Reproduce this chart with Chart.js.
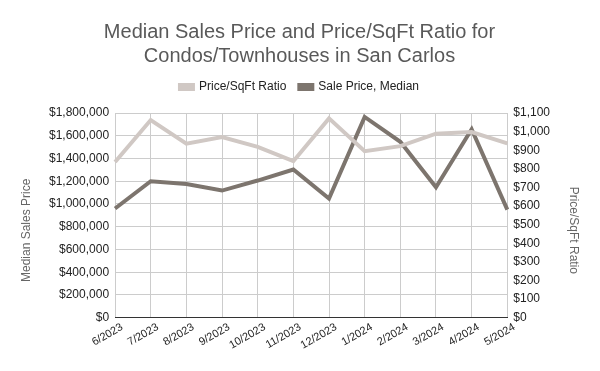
<!DOCTYPE html>
<html>
<head>
<meta charset="utf-8">
<script src="https://cdn.jsdelivr.net/npm/chart.js@4"></script>
<style>
  html, body { margin: 0; padding: 0; background: #fff; }
  #wrap { width: 600px; height: 371px; }
</style>
</head>
<body>
<div id="wrap"><canvas id="chart"></canvas></div>
<script>
// data
const months = ['6/2023', '7/2023', '8/2023', '9/2023', '10/2023', '11/2023',
                '12/2023', '1/2024', '2/2024', '3/2024', '4/2024', '5/2024'];
const pricePerSqFt = [837, 1062, 935, 971, 918, 841, 1071, 895, 922, 989, 998, 937];
const medianPrice = [960000, 1200000, 1176000, 1118000, 1206000, 1303000,
                     1048000, 1765000, 1547000, 1147000, 1657000, 950000];
const leftTitle = 'Median Sales Price';
const rightTitle = 'Price/SqFt Ratio';

const fontFamily = '"Liberation Sans", Arial, sans-serif';

function money(v) {
    return '$' + Number(v).toLocaleString('en-US');
}

// extra gap under the legend
const legendGap = {
    id: 'legendGap',
    beforeInit(chart) {
        const fit = chart.legend.fit;
        chart.legend.fit = function () {
            fit.bind(chart.legend)();
            this.height += 10;
        };
    }
};

// axis titles sit a bit lower than the plot centre (centred over plot + x labels)
const sideTitles = {
    id: 'sideTitles',
    afterDraw(chart) {
        const c = chart.ctx;
        const area = chart.chartArea;
        const midY = (area.top + area.bottom) / 2 + 15;
        c.save();
        c.font = '12px ' + fontFamily;
        c.fillStyle = '#666';
        c.textAlign = 'center';
        c.textBaseline = 'middle';
        c.translate(chart.scales.yLeft.left - 16, midY);
        c.rotate(-Math.PI / 2);
        c.fillText(leftTitle, 0, 0);
        c.restore();
        c.save();
        c.font = '12px ' + fontFamily;
        c.fillStyle = '#666';
        c.textAlign = 'center';
        c.textBaseline = 'middle';
        c.translate(chart.scales.yRight.right + 17, midY);
        c.rotate(Math.PI / 2);
        c.fillText(rightTitle, 0, 0);
        c.restore();
    }
};

const ctx = document.getElementById('chart').getContext('2d');
new Chart(ctx, {
    type: 'line',
    data: {
        labels: months,
        datasets: [
            {
                label: 'Price/SqFt Ratio',
                data: pricePerSqFt,
                yAxisID: 'yRight',
                borderColor: '#d0c8c4',
                backgroundColor: '#d0c8c4',
                borderWidth: 4,
                pointRadius: 0,
                tension: 0,
                fill: false
            },
            {
                label: 'Sale Price, Median',
                data: medianPrice,
                yAxisID: 'yLeft',
                borderColor: '#7d756e',
                backgroundColor: '#7d756e',
                borderWidth: 4,
                pointRadius: 0,
                tension: 0,
                fill: false
            }
        ]
    },
    plugins: [legendGap, sideTitles],
    options: {
        responsive: true,
        maintainAspectRatio: false,
        animation: false,
        layout: {
            padding: { left: 43, right: 44, top: 10, bottom: 16 }
        },
        plugins: {
            title: {
                display: true,
                text: ['Median Sales Price and Price/SqFt Ratio for', 'Condos/Townhouses in San Carlos'],
                color: '#595959',
                font: { family: fontFamily, size: 20, weight: 'normal' },
                padding: { top: 10, bottom: 0 }
            },
            legend: {
                display: true,
                position: 'top',
                labels: {
                    color: '#222',
                    font: { family: fontFamily, size: 12 },
                    boxWidth: 13,
                    boxHeight: 4,
                    padding: 13
                }
            },
            tooltip: { enabled: false }
        },
        scales: {
            x: {
                offset: false,
                grid: {
                    color: '#cccccc',
                    drawTicks: false
                },
                border: { color: '#333333', width: 1 },
                ticks: {
                    color: '#222',
                    font: { family: fontFamily, size: 11 },
                    maxRotation: 30,
                    minRotation: 30,
                    padding: 3,
                    labelOffset: 7,
                    autoSkip: false
                }
            },
            yLeft: {
                position: 'left',
                min: 0,
                max: 1800000,
                grid: {
                    color: '#cccccc',
                    drawTicks: false
                },
                border: { display: false },
                ticks: {
                    stepSize: 200000,
                    color: '#222',
                    font: { family: fontFamily, size: 12 },
                    padding: 6,
                    callback: money
                }
            },
            yRight: {
                position: 'right',
                min: 0,
                max: 1100,
                grid: { display: false, drawTicks: false },
                border: { display: false },
                ticks: {
                    stepSize: 100,
                    color: '#222',
                    font: { family: fontFamily, size: 12 },
                    padding: 6,
                    callback: money
                }
            }
        }
    }
});
</script>
</body>
</html>
